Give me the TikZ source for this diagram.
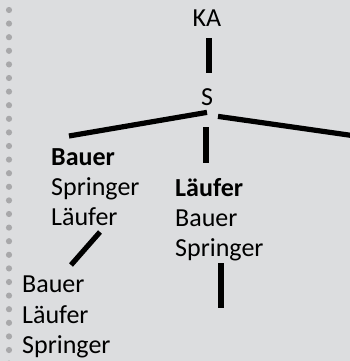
\documentclass[tikz,border=0pt]{standalone}
\usepackage{fontspec}
\setmainfont{Carlito}
\definecolor{bg}{RGB}{220,221,223}
\definecolor{dotgray}{RGB}{168,168,170}
\begin{document}
\begin{tikzpicture}[x=1pt,y=-1pt,
  lbl/.style={inner sep=0pt,font=\fontsize{26}{30}\selectfont,text=black},
  branch/.style={line width=5.2pt,black},
  dotmark/.style={fill=dotgray}]
\fill[bg] (0,0) rectangle (350,361);
\useasboundingbox (0,0) rectangle (350,361);
\foreach \k in {0,...,26} {
  \fill[dotmark] (9,{10+13.6*\k}) circle (3.1pt);
}
% nodes
\node[lbl,anchor=base] (KA) at (207,27) {KA};
\node[lbl,anchor=base] (S) at (207,105) {S};
\node[lbl,anchor=base west] (A1) at (51,165) {\textbf{Bauer}};
\node[lbl,anchor=base west] (A2) at (51,195) {Springer};
\node[lbl,anchor=base west] (A3) at (51,225) {Läufer};
\node[lbl,anchor=base west] (B1) at (175,196) {\textbf{Läufer}};
\node[lbl,anchor=base west] (B2) at (175,226) {Bauer};
\node[lbl,anchor=base west] (B3) at (175,256) {Springer};
\node[lbl,anchor=base west] (C1) at (22,292) {Bauer};
\node[lbl,anchor=base west] (C2) at (22,323) {Läufer};
\node[lbl,anchor=base west] (C3) at (22,353) {Springer};
\coordinate (Rend) at (352,135.5);
\coordinate (Mend) at (221,308);
% connectors
\draw[branch] ([xshift=2pt,yshift=-11pt]KA.south) -- ([xshift=2pt,yshift=15pt]S.north);
\draw[branch] ([yshift=-7pt]S.south) -- ([xshift=18pt,yshift=29pt]A1.base west);
\draw[branch] ([xshift=11pt,yshift=-11pt]S.south) -- (Rend);
\draw[branch] ([xshift=-1pt,yshift=-22pt]S.south) -- ([xshift=31pt,yshift=33pt]B1.base west);
\draw[branch] ([xshift=49pt,yshift=-7pt]A3.base west) -- ([xshift=49pt,yshift=27pt]C1.base west);
\draw[branch] ([xshift=46pt,yshift=-7pt]B3.base west) -- (Mend);
\end{tikzpicture}
\end{document}
